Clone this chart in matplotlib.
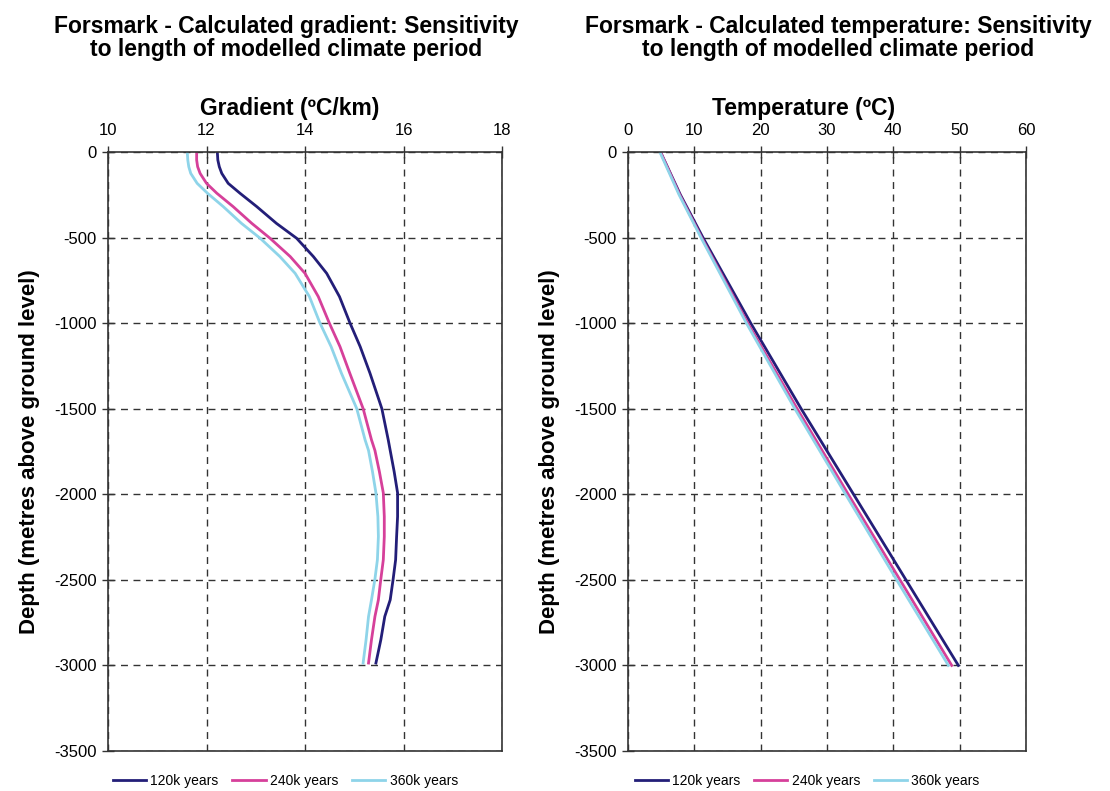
import numpy as np
import matplotlib
matplotlib.use("Agg")
import matplotlib.pyplot as plt

plt.rcParams['font.family'] = ['Liberation Sans', 'DejaVu Sans']
plt.rcParams['axes.unicode_minus'] = False

labels = ['120k years', '240k years', '360k years']
colors = ['#231e78', '#d6409a', '#8ed4e9']

# gradient curves (depth in m, gradient in C/km)
grad_depth = [0, 47, 86, 125, 183, 241, 319, 417, 504, 611, 709, 845, 997, 1137,
              1293, 1499, 1682, 1744, 1867, 1992, 2130, 2247, 2383, 2495, 2617,
              2714, 2850, 2986]
grad_120 = [12.22, 12.23, 12.26, 12.31, 12.44, 12.68, 13.02, 13.42, 13.83, 14.17, 14.44,
            14.70, 14.91, 15.12, 15.32, 15.56, 15.69, 15.73, 15.81, 15.88, 15.88, 15.86,
            15.84, 15.79, 15.73, 15.62, 15.54, 15.44]
grad_240 = [11.80, 11.80, 11.82, 11.87, 12.00, 12.21, 12.54, 12.92, 13.29, 13.70, 14.00,
            14.27, 14.49, 14.71, 14.91, 15.18, 15.35, 15.42, 15.51, 15.59, 15.61, 15.61,
            15.59, 15.54, 15.49, 15.42, 15.35, 15.29]
grad_360 = [11.61, 11.62, 11.64, 11.68, 11.81, 12.02, 12.34, 12.71, 13.09, 13.49, 13.80,
            14.09, 14.30, 14.53, 14.74, 15.05, 15.22, 15.29, 15.37, 15.44, 15.48, 15.49,
            15.47, 15.42, 15.35, 15.29, 15.24, 15.18]

# temperature curves (depth in m, temperature in C)
temp_depth = [0, 250, 500, 1000, 1500, 2000, 2500, 3000]
temp_120 = [4.9, 7.9, 11.3, 18.5, 26.1, 34.0, 41.9, 49.8]
temp_240 = [4.9, 7.8, 11.1, 18.05, 25.5, 33.2, 41.0, 48.8]
temp_360 = [4.8, 7.7, 11.0, 17.85, 25.15, 32.8, 40.5, 48.3]

depth_ticks = [0, -500, -1000, -1500, -2000, -2500, -3000, -3500]

fig = plt.figure(figsize=(11.1, 7.91), dpi=100)
W, H = 1110, 791
ax1 = fig.add_axes([108 / W, 1 - 751 / H, 394 / W, 599 / H])
ax2 = fig.add_axes([628 / W, 1 - 751 / H, 398 / W, 599 / H])

d_g = -np.array(grad_depth)
for g, c, l in zip([grad_120, grad_240, grad_360], colors, labels):
    ax1.plot(g, d_g, color=c, lw=2.0, label=l)

d_t = -np.array(temp_depth)
for t, c, l in zip([temp_120, temp_240, temp_360], colors, labels):
    ax2.plot(t, d_t, color=c, lw=2.0, label=l)

def style(ax, xlim, xticks, xlabel, xlab_pos):
    ax.set_xlim(*xlim)
    ax.set_ylim(-3500, 0)
    ax.set_xticks(xticks)
    ax.set_yticks(depth_ticks)
    ax.xaxis.tick_top()
    ax.xaxis.set_label_position('top')
    ax.tick_params(axis='both', direction='inout', length=8, width=1,
                   labelsize=12, color='#333333')
    ax.tick_params(axis='x', pad=6)
    ax.tick_params(axis='y', pad=4)
    ax.grid(True, color='#333333', ls=(0, (5, 4)), lw=1)
    for s in ax.spines.values():
        s.set_color('#333333')
        s.set_linewidth(1.2)
    ax.set_xlabel(xlabel, fontsize=16.5, fontweight='bold', labelpad=6)
    ax.xaxis.set_label_coords(xlab_pos, 1 + 37 / 599)
    ax.set_ylabel('Depth (metres above ground level)', fontsize=16,
                  fontweight='bold', labelpad=10)
    ax.legend(loc='center', bbox_to_anchor=(0.45, -0.05), ncol=3, frameon=False,
              fontsize=10, handlelength=2.4, handletextpad=0.3, columnspacing=1.0)

style(ax1, (10, 18), [10, 12, 14, 16, 18], 'Gradient (ºC/km)', 0.46)
style(ax2, (0, 60), [0, 10, 20, 30, 40, 50, 60], 'Temperature (ºC)', 0.44)

fig.text(286 / W, 1 - 38 / H,
         'Forsmark - Calculated gradient: Sensitivity\nto length of modelled climate period',
         ha='center', va='center', fontsize=16.5, fontweight='bold', linespacing=0.95)
fig.text(838 / W, 1 - 38 / H,
         'Forsmark - Calculated temperature: Sensitivity\nto length of modelled climate period',
         ha='center', va='center', fontsize=16.5, fontweight='bold', linespacing=0.95)

fig.savefig('out.png', dpi=100)
